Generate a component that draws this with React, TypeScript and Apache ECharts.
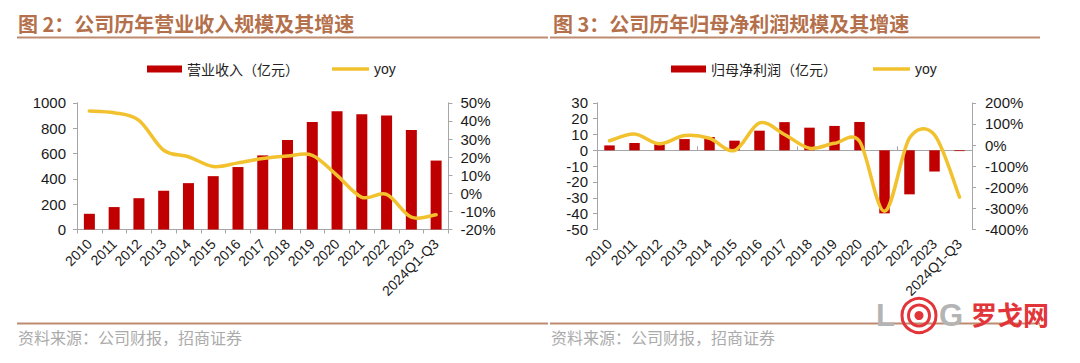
import React, { useEffect, useRef } from "react";
import * as echarts from "echarts";

const categories = ["2010", "2011", "2012", "2013", "2014", "2015", "2016", "2017", "2018", "2019", "2020", "2021", "2022", "2023", "2024Q1-Q3"];
const revenue = [124, 177, 247, 306, 366, 421, 493, 585, 706, 849, 933, 910, 899, 785, 544];
const revenueYoy = [45.5, 44.5, 40.3, 23.8, 20.2, 14.8, 16.8, 19.2, 20.6, 21.0, 9.9, -2.2, -0.6, -13.2, -11.8];
const netProfit = [3.1, 4.6, 3.8, 7.1, 8.4, 6.1, 12.4, 17.8, 14.3, 15.4, 17.9, -39.8, -27.8, -13.4, -0.5];
const netProfitYoy = [20, 52, 6, 45, 32, -26, 105, 50, -15, 8, 18, -314, 33, 48, -247];

const revenueTicks = [0, 200, 400, 600, 800, 1000];
const revenueYoyTicks = [-20, -10, 0, 10, 20, 30, 40, 50];
const profitTicks = [-50, -40, -30, -20, -10, 0, 10, 20, 30];
const profitYoyTicks = [-400, -300, -200, -100, 0, 100, 200];

const leftTitle = "图 2：公司历年营业收入规模及其增速";
const rightTitle = "图 3：公司历年归母净利润规模及其增速";
const sourceText = "资料来源：公司财报，招商证券";
const revenueName = "营业收入（亿元）";
const profitName = "归母净利润（亿元）";
const yoyName = "yoy";

const RED = "#c00000";
const YELLOW = "#f2c12e";
const AXIS = "#a6a6a6";
const BROWN = "#bd8c70";
const TITLE = "#b4704b";
const FONT = "'Liberation Sans', 'Noto Sans CJK SC', sans-serif";
const CJK = "'Noto Sans CJK SC', sans-serif";

const range = (t: number[]) => ({ min: t[0], max: t[t.length - 1], interval: t[1] - t[0] });

function valueAxis(gridIndex: number, ticks: number[], position: string, pct: boolean, margin: number) {
  return {
    type: "value",
    gridIndex,
    position,
    ...range(ticks),
    axisLine: { show: true, lineStyle: { color: AXIS, width: 1 } },
    axisTick: { show: true, length: 4, lineStyle: { color: AXIS } },
    splitLine: { show: false },
    axisLabel: {
      color: "#1a1a1a",
      fontSize: 15,
      fontFamily: FONT,
      margin,
      formatter: (v: number) => (pct ? `${v}%` : `${v}`),
    },
  };
}

// Excel-like smoothed line drawn through the axes' own coordinate mapping
function smoothLine(values: number[]) {
  return (params: any, api: any) => {
    if (params.dataIndex !== 0) return null;
    const pts = values.map((v, i) => api.coord([i, v]));
    const dist = (a: number[], b: number[]) => Math.hypot(a[0] - b[0], a[1] - b[1]);
    let d = `M${pts[0][0]},${pts[0][1]}`;
    for (let i = 0; i < pts.length - 1; i++) {
      const p0 = pts[i - 1] || pts[i];
      const p1 = pts[i];
      const p2 = pts[i + 1];
      const p3 = pts[i + 2] || pts[i + 1];
      const seg = dist(p1, p2);
      const d02 = dist(p0, p2) || 1;
      const d13 = dist(p1, p3) || 1;
      const f0 = Math.min(1 / 6, seg / 2 / d02);
      const f1 = Math.min(1 / 6, seg / 2 / d13);
      const c1x = p1[0] + (p2[0] - p0[0]) * f0;
      const c1y = p1[1] + (p2[1] - p0[1]) * f0;
      const c2x = p2[0] - (p3[0] - p1[0]) * f1;
      const c2y = p2[1] - (p3[1] - p1[1]) * f1;
      d += ` C${c1x},${c1y} ${c2x},${c2y} ${p2[0]},${p2[1]}`;
    }
    return {
      type: "path",
      shape: { pathData: d },
      style: { fill: "none", stroke: YELLOW, lineWidth: 3.5, lineJoin: "round", lineCap: "round" },
    };
  };
}

function legend(left: number, name: string, isLine: boolean) {
  return {
    left,
    top: 57,
    itemWidth: isLine ? 37 : 35,
    itemHeight: isLine ? 3.5 : 7,
    data: [{ name, icon: "rect" }],
    textStyle: { fontSize: 14, color: "#222", fontFamily: isLine ? FONT : CJK },
  };
}

export default function App() {
  const ref = useRef<HTMLDivElement>(null);
  useEffect(() => {
    if (!ref.current) return;
    const chart = echarts.init(ref.current, undefined, { renderer: "svg" });
    const labelStyle = { color: "#1a1a1a", fontSize: 14, fontFamily: FONT, rotate: 45, margin: 12, interval: 0 };
    chart.setOption({
      animation: false,
      backgroundColor: "#ffffff",
      textStyle: { fontFamily: FONT },
      legend: [
        legend(142, revenueName, false),
        legend(327, yoyName, true),
        legend(666, profitName, false),
        legend(868, yoyName, true),
      ],
      grid: [
        { left: 77, top: 102.8, width: 371.5, height: 126.7 },
        { left: 597, top: 102.8, width: 375, height: 126.7 },
      ],
      xAxis: [
        {
          type: "category",
          gridIndex: 0,
          data: categories,
          boundaryGap: true,
          axisLine: { show: true, onZero: false, lineStyle: { color: AXIS } },
          axisTick: { show: true, length: 4, lineStyle: { color: AXIS } },
          axisLabel: labelStyle,
        },
        {
          type: "category",
          gridIndex: 1,
          data: categories,
          boundaryGap: true,
          axisLine: { show: false, onZero: false },
          axisTick: { show: false },
          axisLabel: labelStyle,
        },
        {
          type: "category",
          gridIndex: 1,
          data: categories,
          boundaryGap: true,
          axisLine: { show: true, onZero: true, onZeroAxisIndex: 2, lineStyle: { color: AXIS } },
          axisTick: { show: true, length: 4, lineStyle: { color: AXIS } },
          axisLabel: { show: false },
        },
      ],
      yAxis: [
        valueAxis(0, revenueTicks, "left", false, 11),
        valueAxis(0, revenueYoyTicks, "right", true, 12),
        valueAxis(1, profitTicks, "left", false, 9),
        valueAxis(1, profitYoyTicks, "right", true, 13),
      ],
      series: [
        {
          name: revenueName,
          type: "bar",
          xAxisIndex: 0,
          yAxisIndex: 0,
          data: revenue,
          barWidth: 11,
          itemStyle: { color: RED },
        },
        {
          name: yoyName,
          type: "custom",
          coordinateSystem: "cartesian2d",
          xAxisIndex: 0,
          yAxisIndex: 1,
          data: revenueYoy.map((v, i) => [i, v]),
          encode: { x: 0, y: 1 },
          renderItem: smoothLine(revenueYoy),
          itemStyle: { color: YELLOW },
          z: 3,
        },
        {
          name: profitName,
          type: "bar",
          xAxisIndex: 1,
          yAxisIndex: 2,
          data: netProfit,
          barWidth: 10.5,
          itemStyle: { color: RED },
        },
        {
          name: yoyName,
          type: "custom",
          coordinateSystem: "cartesian2d",
          xAxisIndex: 1,
          yAxisIndex: 3,
          data: netProfitYoy.map((v, i) => [i, v]),
          encode: { x: 0, y: 1 },
          renderItem: smoothLine(netProfitYoy),
          itemStyle: { color: YELLOW },
          z: 3,
        },
      ],
      graphic: [
        { type: "text", left: 18, top: 13, style: { text: leftTitle, fontSize: 20, fontWeight: "bold", fill: TITLE, fontFamily: CJK } },
        { type: "text", left: 553, top: 13, style: { text: rightTitle, fontSize: 20, fontWeight: "bold", fill: TITLE, fontFamily: CJK } },
        { type: "line", shape: { x1: 17, y1: 37.5, x2: 548, y2: 37.5 }, style: { stroke: BROWN, lineWidth: 2 } },
        { type: "line", shape: { x1: 550, y1: 37.5, x2: 1040, y2: 37.5 }, style: { stroke: BROWN, lineWidth: 2 } },
        { type: "line", shape: { x1: 17, y1: 323.5, x2: 548, y2: 323.5 }, style: { stroke: BROWN, lineWidth: 2 } },
        { type: "line", shape: { x1: 550, y1: 323.5, x2: 1040, y2: 323.5 }, style: { stroke: BROWN, lineWidth: 2 } },
        { type: "text", left: 18, top: 329, style: { text: sourceText, fontSize: 16, fill: "#ababab", fontFamily: CJK } },
        { type: "text", left: 551, top: 329, style: { text: sourceText, fontSize: 16, fill: "#ababab", fontFamily: CJK } },
        {
          type: "group",
          left: 876,
          top: 296,
          children: [
            { type: "text", x: 0, y: 2, style: { text: "L", fontSize: 31, fontWeight: "bold", fill: "#b4b4b4", fontFamily: FONT } },
            { type: "circle", shape: { cx: 43, cy: 18, r: 17 }, style: { fill: "none", stroke: "#e2353a", lineWidth: 3 } },
            { type: "circle", shape: { cx: 43, cy: 18, r: 10.5 }, style: { fill: "none", stroke: "#e2353a", lineWidth: 3 } },
            { type: "circle", shape: { cx: 43, cy: 18, r: 4.5 }, style: { fill: "#e2353a" } },
            { type: "text", x: 63, y: 2, style: { text: "G", fontSize: 31, fontWeight: "bold", fill: "#b4b4b4", fontFamily: FONT } },
            { type: "text", x: 95, y: 3, style: { text: "罗戈网", fontSize: 26, fontWeight: "bold", fill: "#e2353a", fontFamily: CJK } },
          ],
        },
      ],
    });
    return () => chart.dispose();
  }, []);
  return <div ref={ref} style={{ position: "fixed", left: 0, top: 0, width: 1080, height: 363 }} />;
}
